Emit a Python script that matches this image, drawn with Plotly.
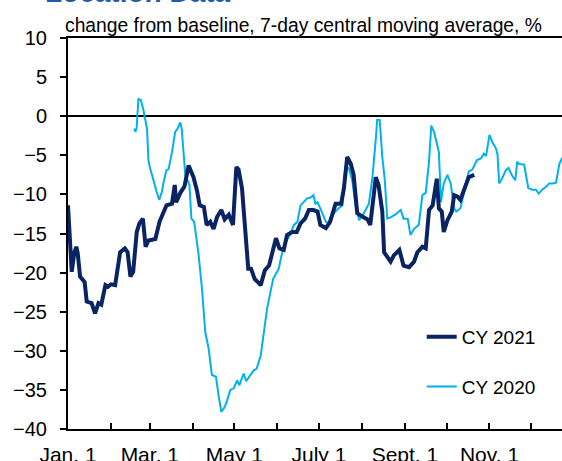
import pandas as pd
import plotly.graph_objects as go

# Days elapsed since Jan 1 and % change from baseline (7-day central moving average)
cy2021_day = [0, 2.7, 4.5, 6, 7, 8.7, 11, 12, 13.5, 17, 19.5, 22, 24, 27, 29, 31, 34, 36,
              37.6, 41, 43, 45, 47, 49.6, 51.5, 54, 56, 58, 63, 66, 69, 71, 75, 77, 78, 81,
              84, 87, 90.5, 93, 95, 98, 100, 102.6, 105, 107.5, 110.6, 113, 116, 119, 121.4,
              123, 125.5, 128, 130, 132, 134.6, 139, 142, 145, 148, 150, 152.5, 155.6, 158,
              161.7, 165, 167.7, 171, 173.7, 177, 180, 182, 186, 189, 193, 197, 199, 201.4,
              204, 206, 208.6, 212, 216, 218, 219.5, 222, 224, 226.7, 228, 230.8, 232.7, 235,
              239, 242, 246, 249.6, 252, 255.6, 258, 260.4, 263, 266, 267.5, 269.6, 271,
              273.7, 276.8, 278.5, 281, 283, 287, 289, 293]
cy2021_val = [-11.4, -19.9, -17.5, -16.7, -17.5, -20.5, -21.0, -21.2, -23.7, -23.9, -25.2,
              -23.9, -24.1, -21.6, -21.8, -21.5, -21.6, -19.5, -17.4, -16.9, -17.4, -20.5,
              -19.9, -14.8, -13.7, -13.1, -16.7, -15.9, -15.7, -13.5, -12.4, -11.4, -11.2,
              -8.8, -11.0, -9.8, -9.0, -6.3, -7.8, -9.5, -11.4, -11.6, -13.9, -13.5, -14.4,
              -12.9, -12.0, -13.2, -12.6, -13.9, -6.5, -6.8, -9.2, -15.2, -19.5, -19.5,
              -20.8, -21.6, -19.7, -19.1, -16.9, -15.6, -16.9, -17.1, -15.2, -14.8, -14.8,
              -13.7, -13.1, -12.0, -12.0, -12.2, -13.9, -14.3, -13.5, -11.2, -11.2, -9.2,
              -5.2, -6.1, -7.5, -12.4, -12.8, -13.2, -13.9, -11.4, -7.8, -8.8, -12.2, -17.4,
              -18.0, -18.6, -17.8, -17.1, -19.1, -19.3, -18.6, -17.4, -16.7, -16.9, -12.0,
              -11.4, -8.0, -11.8, -12.2, -14.8, -13.3, -12.2, -10.1, -10.3, -10.7, -8.8,
              -7.8, -7.5]

cy2020_day = [47.7, 48.7, 49.5, 50.8, 52.5, 54.4, 57, 58, 59, 61.7, 64, 65.8, 67.7, 69, 71,
              72.5, 75, 77.3, 79, 81, 82, 84.6, 86, 87.6, 89, 91, 94, 96.6, 99, 101.4, 103.8,
              106.7, 108.6, 110.6, 113, 114.7, 117, 119.5, 122, 123.6, 126.7, 128.5, 131.5,
              134, 136, 139, 141, 143.6, 146, 148, 152, 154.5, 157, 160, 163, 165.5, 167.7,
              170, 172.5, 175, 177, 178.5, 180, 183, 186, 188, 191.8, 195, 198, 200, 202.6,
              205, 207.4, 210, 213.4, 217, 219.5, 222, 223, 224.8, 226.7, 228.4, 230.3, 233,
              236, 240, 242, 245, 247, 249.6, 253, 255.6, 258, 260.4, 262, 264, 266.5, 267.5,
              269, 271, 273.7, 276, 278.5, 280, 283, 285.7, 289, 291.7, 295, 297.8, 300,
              301.5, 304, 306, 308.6, 309.8, 311, 313, 315.8, 317.7, 320, 322.6, 324, 325.2,
              329, 330.8, 332, 335, 337.5, 339.5, 342, 345, 347, 349.5, 352, 354.4, 356.3, 358]
cy2020_val = [-1.6, -2.0, -1.5, 2.2, 2.1, 0.8, -1.6, -5.6, -6.5, -8.4, -9.7, -10.7, -9.7,
              -8.4, -6.9, -6.8, -4.6, -2.0, -1.6, -0.8, -1.6, -7.5, -8.2, -8.8, -13.1, -13.5,
              -17.4, -22.0, -27.6, -29.7, -33.1, -33.3, -35.7, -37.8, -37.2, -36.4, -35.0,
              -34.8, -33.8, -34.4, -32.9, -33.9, -33.1, -32.5, -32.3, -30.6, -28.0, -24.6,
              -22.5, -20.8, -19.5, -17.4, -16.1, -15.2, -13.9, -13.5, -11.4, -11.0, -10.5,
              -10.4, -10.1, -11.2, -11.0, -12.2, -13.5, -13.7, -12.4, -11.8, -11.4, -6.5,
              -6.7, -8.2, -11.4, -13.3, -12.4, -11.2, -8.0, -2.9, -0.5, -0.5, -5.2, -8.0,
              -13.1, -12.9, -12.6, -12.0, -13.1, -13.1, -15.2, -14.4, -13.9, -10.1, -9.8,
              -5.8, -1.2, -2.0, -3.7, -4.6, -11.0, -8.6, -7.5, -8.6, -11.8, -12.2, -11.8,
              -9.5, -7.1, -6.8, -5.6, -5.4, -4.8, -5.1, -2.4, -3.3, -4.1, -4.9, -8.6, -8.0,
              -6.9, -6.6, -7.5, -8.2, -5.8, -6.1, -6.2, -8.0, -9.2, -9.4, -9.4, -9.9, -9.4,
              -9.0, -8.6, -8.6, -8.5, -6.1, -5.4, -5.3]

# Calendar axis (generic non-leap year)
year_start = pd.Timestamp("2021-01-01")
month_starts = pd.date_range("2021-01-01", "2021-12-01", freq="MS")
month_labels = ["Jan. 1", "", "Mar. 1", "", "May 1", "", "July 1", "", "Sept. 1", "", "Nov. 1", ""]
y_ticks = [10, 5, 0, -5, -10, -15, -20, -25, -30, -35, -40]

NAVY = "#0A2362"
SKY = "#00B0F0"
FONT = "Arial, Liberation Sans, sans-serif"


def to_dates(days):
    return year_start + pd.to_timedelta(days, unit="D")


fig = go.Figure()
fig.add_trace(go.Scatter(
    x=to_dates(cy2020_day), y=cy2020_val, mode="lines", name="CY 2020",
    line=dict(color=SKY, width=2), legendrank=2, legendgroup="b",
))
fig.add_trace(go.Scatter(
    x=to_dates(cy2021_day), y=cy2021_val, mode="lines", name="CY 2021",
    line=dict(color=NAVY, width=4), legendrank=1, legendgroup="a",
))

fig.update_layout(
    width=562, height=461,
    margin=dict(l=68, r=0, t=38, b=32, autoexpand=False),
    paper_bgcolor="white", plot_bgcolor="white",
    font=dict(family=FONT, color="black", size=20),
    showlegend=True,
    legend=dict(
        x=0.716, y=0.284, xanchor="left", yanchor="top",
        bgcolor="rgba(0,0,0,0)", borderwidth=0,
        font=dict(size=19, family=FONT), tracegroupgap=22,
    ),
    xaxis=dict(
        type="date", automargin=False,
        range=[year_start, year_start + pd.Timedelta(days=356.3)],
        tickmode="array", tickvals=month_starts, ticktext=month_labels,
        ticks="inside", ticklen=6, tickwidth=2, tickcolor="black",
        showline=True, linecolor="black", linewidth=2, mirror=True,
        showgrid=False, zeroline=False,
        tickfont=dict(size=21), ticklabelstandoff=6,
    ),
    yaxis=dict(
        range=[-40, 10], tickmode="array", tickvals=y_ticks, automargin=False,
        ticks="outside", ticklen=6, tickwidth=2, tickcolor="black",
        showline=True, linecolor="black", linewidth=2,
        showgrid=False, zeroline=True, zerolinecolor="black", zerolinewidth=1.5,
        tickfont=dict(size=20), ticklabelstandoff=9,
    ),
)

fig.add_annotation(
    text="change from baseline, 7-day central moving average, %",
    xref="paper", yref="paper", x=-0.0101, y=1, xanchor="left", yanchor="bottom",
    showarrow=False, font=dict(size=19.3, family=FONT, color="black"), yshift=0,
)
fig.add_annotation(
    text="<b>Location Data</b>",
    xref="paper", yref="paper", x=-0.0506, y=1, xanchor="left", yanchor="bottom",
    showarrow=False, font=dict(size=28, family=FONT, color="#1F5BA8"), yshift=28,
)

fig.write_html("out.html")
